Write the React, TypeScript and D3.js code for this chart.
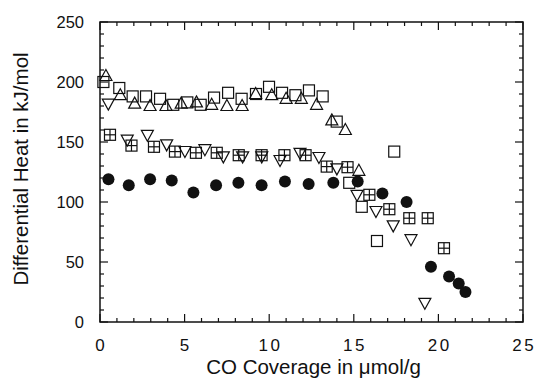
import React from 'react';
import * as d3 from 'd3';

// [coverage µmol/g, differential heat kJ/mol]
const filledCircles: [number, number][] = [
  [0.5, 119], [1.7, 114], [2.96, 119], [4.24, 118], [5.52, 108], [6.86, 114],
  [8.18, 116], [9.55, 114], [10.93, 117], [12.33, 115], [13.79, 116], [15.23, 117],
  [16.69, 107], [18.12, 100], [19.56, 46], [20.63, 38], [21.2, 32], [21.6, 25],
];

const openSquares: [number, number][] = [
  [0.2, 200], [1.14, 195], [1.93, 188], [2.72, 188], [3.55, 186], [4.33, 181],
  [5.16, 183], [5.95, 181], [6.74, 187], [7.57, 191], [8.37, 186], [9.22, 190],
  [9.99, 196], [10.76, 191], [11.55, 189], [12.35, 193], [13.16, 188], [13.99, 167],
  [14.73, 116], [15.47, 96], [16.37, 67.5], [17.39, 142],
];

const upTriangles: [number, number][] = [
  [0.35, 205], [1.2, 189], [2.05, 182], [2.96, 180], [3.9, 180], [4.8, 182],
  [5.7, 183], [6.6, 181], [7.5, 180], [8.4, 180], [9.2, 190], [10.15, 189],
  [11.0, 186], [11.9, 186], [12.8, 181], [13.7, 168], [14.5, 160], [15.3, 126],
];

const downTriangles: [number, number][] = [
  [0.49, 182], [1.61, 152], [2.8, 156], [3.94, 148], [5.02, 142.5], [6.2, 144],
  [7.29, 138], [8.43, 138], [9.56, 138], [10.64, 135], [11.82, 141], [12.94, 137.5],
  [14.0, 128], [15.19, 106], [16.31, 92.5], [17.33, 80.5], [18.38, 69], [19.2, 16],
];

const boxedPlus: [number, number][] = [
  [0.59, 156], [1.86, 147], [3.19, 146], [4.43, 142], [5.67, 141], [6.9, 141],
  [8.2, 139], [9.55, 139], [10.9, 139], [12.15, 139], [13.4, 129.5], [14.63, 129],
  [15.92, 106], [17.1, 94], [18.28, 86.5], [19.37, 86.5], [20.33, 61.5],
];

const xTicks = [0, 5, 10, 15, 20, 25];
const yTicks = [0, 50, 100, 150, 200, 250];

const W = 537;
const H = 379;
const margin = { left: 100, right: 14, top: 22, bottom: 57 };
const ink = '#111';
const font = '"Liberation Sans", Arial, Helvetica, sans-serif';

export default function App() {
  const x = d3.scaleLinear().domain([0, 25]).range([margin.left, W - margin.right]);
  const y = d3.scaleLinear().domain([0, 250]).range([H - margin.bottom, margin.top]);
  const [x0, x1] = x.range();
  const [y0, y1] = y.range();

  const xMinor = d3.range(0, 26, 1);
  const yMinor = d3.range(0, 251, 10);
  const major = 8;
  const minor = 4;

  const tri = (up: boolean) =>
    up ? 'M0,-6.5L6,4.5L-6,4.5Z' : 'M0,6.5L6,-4.5L-6,-4.5Z';

  return (
    <svg width={W} height={H} style={{ position: 'absolute', left: 0, top: 0, background: '#fff' }}>
      {/* ticks, inward on all sides */}
      <g stroke={ink} strokeWidth={1.2}>
        {xMinor.map((v) => {
          const len = v % 5 === 0 ? major : minor;
          return (
            <g key={'xt' + v}>
              <line x1={x(v)} x2={x(v)} y1={y0} y2={y0 - len} />
              <line x1={x(v)} x2={x(v)} y1={y1} y2={y1 + len} />
            </g>
          );
        })}
        {yMinor.map((v) => {
          const len = v % 50 === 0 ? major : minor;
          return (
            <g key={'yt' + v}>
              <line x1={x0} x2={x0 + len} y1={y(v)} y2={y(v)} />
              <line x1={x1} x2={x1 - len} y1={y(v)} y2={y(v)} />
            </g>
          );
        })}
      </g>
      <rect x={x0} y={y1} width={x1 - x0} height={y0 - y1} fill="none" stroke={ink} strokeWidth={1.5} />

      <g fontFamily={font} fill={ink}>
        {xTicks.map((v) => (
          <text key={'xl' + v} x={x(v) + 1.25} y={y0 + 29} textAnchor="middle" fontSize={17} letterSpacing={2.5}>{v}</text>
        ))}
        {yTicks.map((v) => (
          <text key={'yl' + v} x={x0 - 16} y={y(v) + 6} textAnchor="end" fontSize={16.5}>{v}</text>
        ))}
      </g>
      <text x={(x0 + x1) / 2 + 2} y={H - 5} textAnchor="middle" fontFamily={font} fontSize={20.5} fill={ink}>
        CO Coverage in μmol/g
      </text>
      <text
        transform={`translate(28, 169) rotate(-90)`}
        textAnchor="middle"
        fontFamily={font}
        fontSize={20.5}
        fill={ink}
      >
        Differential Heat in kJ/mol
      </text>

      {/* markers */}
      <g fill="none" stroke={ink} strokeWidth={1.2}>
        {openSquares.map(([a, b], i) => (
          <rect key={'s' + i} x={x(a) - 5.5} y={y(b) - 5.5} width={11} height={11} />
        ))}
        {upTriangles.map(([a, b], i) => (
          <path key={'u' + i} d={tri(true)} transform={`translate(${x(a)},${y(b)})`} />
        ))}
        {downTriangles.map(([a, b], i) => (
          <path key={'d' + i} d={tri(false)} transform={`translate(${x(a)},${y(b)})`} />
        ))}
        {boxedPlus.map(([a, b], i) => (
          <g key={'b' + i} transform={`translate(${x(a)},${y(b)})`}>
            <rect x={-5.5} y={-5.5} width={11} height={11} />
            <line x1={0} x2={0} y1={-5.5} y2={5.5} />
            <line x1={-5.5} x2={5.5} y1={0} y2={0} />
          </g>
        ))}
      </g>
      <g fill={ink}>
        {filledCircles.map(([a, b], i) => (
          <circle key={'c' + i} cx={x(a)} cy={y(b)} r={6} />
        ))}
      </g>
    </svg>
  );
}
